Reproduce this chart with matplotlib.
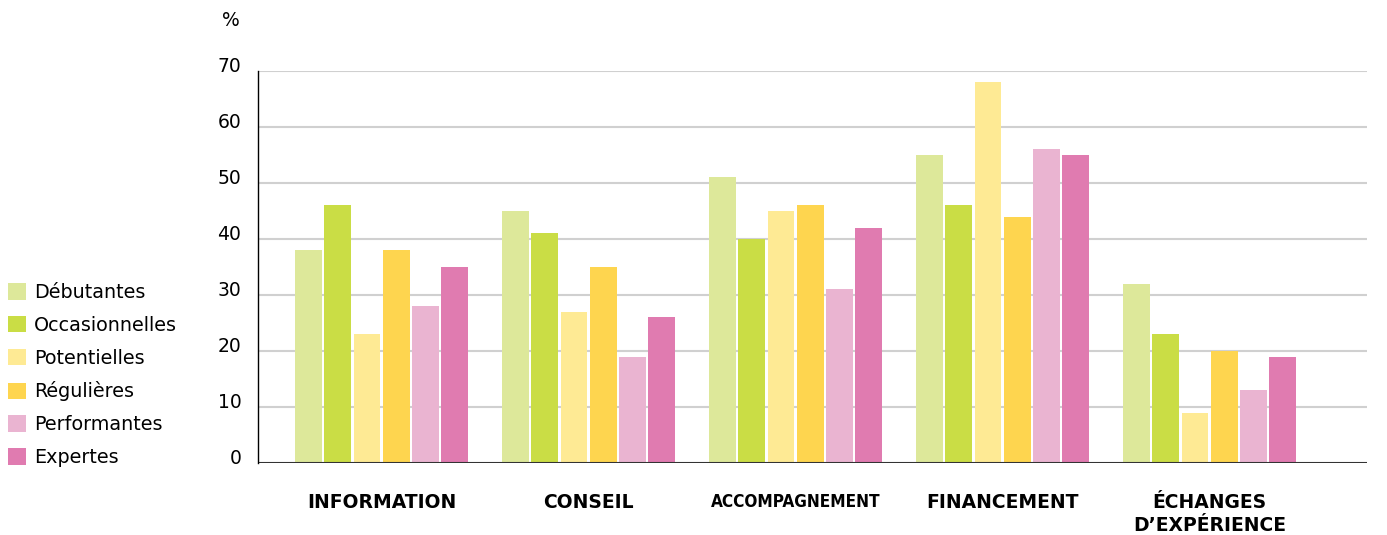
"""plot.py: grouped bars, besoins par profil."""
import numpy as np
import matplotlib
matplotlib.use('Agg')
import matplotlib.pyplot as plt
from matplotlib.patches import Patch
from matplotlib.transforms import ScaledTranslation

categories = ['INFORMATION', 'CONSEIL', 'ACCOMPAGNEMENT', 'FINANCEMENT',
              'ÉCHANGES\nD\u2019EXPÉRIENCE']
series = ['Débutantes', 'Occasionnelles', 'Potentielles', 'Régulières',
          'Performantes', 'Expertes']
debutantes = [38, 45, 51, 55, 32]
occasionnelles = [46, 41, 40, 46, 23]
potentielles = [23, 27, 45, 68, 9]
regulieres = [38, 35, 46, 44, 20]
performantes = [28, 19, 31, 56, 13]
expertes = [35, 26, 42, 55, 19]
yticks = [0, 10, 20, 30, 40, 50, 60, 70]

colors = ['#DDE89A', '#CADD45', '#FEEA94', '#FED54F', '#EAB4D1', '#E07BB0']
values = [debutantes, occasionnelles, potentielles, regulieres,
          performantes, expertes]

fig = plt.figure(figsize=(13.87, 5.35), dpi=100)
ax = fig.add_axes([0.186, 0.1346, 0.7997, 0.7327])

x = np.arange(len(categories))
pitch = 0.141
width = 0.13
for i, (vals, col) in enumerate(zip(values, colors)):
    ax.bar(x + (i - 2.5) * pitch, vals, width, color=col, zorder=3)

ax.set_xlim(-0.597, 4.761)
ax.set_ylim(0, 70)
for y in yticks[1:]:
    ax.axhline(y, color='#d0d0d0', lw=1.5, zorder=1)
ax.axhline(0, color='#333333', lw=1.5, zorder=4)

for s in ['top', 'right', 'bottom']:
    ax.spines[s].set_visible(False)
ax.spines['left'].set_color('black')
ax.spines['left'].set_linewidth(1.0)
ax.spines['left'].set_zorder(5)

ax.set_yticks(yticks)
ax.set_yticklabels([str(v) for v in yticks], fontsize=13.5)
ax.tick_params(axis='y', length=0, pad=12)
# labels sit a little above their grid lines
shift = ScaledTranslation(0, 6 / 100., fig.dpi_scale_trans)
for lab in ax.get_yticklabels():
    lab.set_transform(lab.get_transform() + shift)
ax.set_xticks([])

for xi, cat in zip(x, categories):
    kw = {'fontsize': 13.5}
    if cat == 'ACCOMPAGNEMENT':
        kw = {'fontsize': 12.3, 'fontstretch': 'condensed'}
    ax.text(xi, -5.3, cat, ha='center', va='top',
            fontweight='bold', linespacing=1.28, **kw)

ax.text(-0.73, 79.0, '%', ha='center', va='center', fontsize=13.5)

handles = [Patch(facecolor=c, edgecolor='none') for c in colors]
fig.legend(handles, series, loc='upper left',
           bbox_to_anchor=(8 / 1387., 1 - 283 / 535.),
           frameon=False, fontsize=13.8, handlelength=0.95,
           handleheight=0.95, handletextpad=0.42, labelspacing=0.72,
           borderaxespad=0, borderpad=0)

fig.savefig('out.png', dpi=100)
